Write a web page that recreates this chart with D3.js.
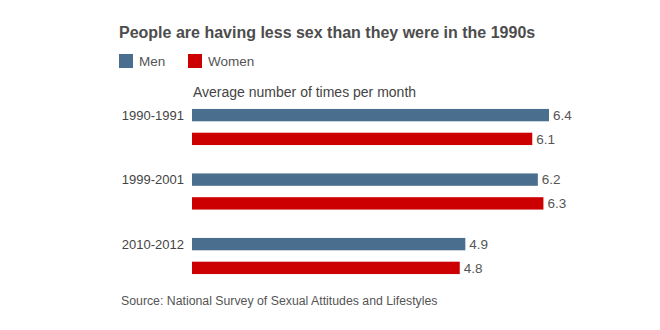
<!DOCTYPE html>
<html lang="en">
<head>
<meta charset="utf-8">
<title>People are having less sex than they were in the 1990s</title>
<script src="https://cdn.jsdelivr.net/npm/d3@7"></script>
<style>
  body { margin: 0; background: #fff; }
  svg text { font-family: "Liberation Sans", Arial, Helvetica, sans-serif; }
</style>
</head>
<body>
<script>
var periods = ["1990-1991", "1999-2001", "2010-2012"];
var series = ["Men", "Women"];
var men = [6.4, 6.2, 4.9];
var women = [6.1, 6.3, 4.8];
var colors = ["#4a6f8e", "#cc0000"];

var w = 660, h = 330;

var svg = d3.select("body").append("svg")
    .attr("width", w)
    .attr("height", h);

var x = d3.scaleLinear().domain([0, 6.4]).range([192, 549]);

// each period gets a 64.5px slot, two 12.5px bars inside it
var y0 = d3.scaleBand().domain(periods).range([103, 296.5]);
var y1 = d3.scaleBand().domain(series).range([0, 48]).paddingInner(0.48).paddingOuter(0.25);

var data = [];
periods.forEach(function(p, i) {
  data.push({ period: p, s: "Men", v: men[i] });
  data.push({ period: p, s: "Women", v: women[i] });
});

svg.append("text")
   .attr("x", 119).attr("y", 38)
   .style("font-size", "16px").style("font-weight", "bold")
   .attr("fill", "#4d4d4d")
   .text("People are having less sex than they were in the 1990s");

// legend
var leg = svg.selectAll("g.leg").data(series).enter().append("g")
   .attr("class", "leg")
   .attr("transform", function(d, i) { return "translate(" + (119 + i * 69) + ",54)"; });
leg.append("rect").attr("width", 14).attr("height", 14)
   .attr("fill", function(d, i) { return colors[i]; });
leg.append("text").attr("x", 20).attr("y", 11.5)
   .style("font-size", "13.5px").attr("fill", "#555")
   .text(function(d) { return d; });

svg.append("text")
   .attr("x", 193).attr("y", 97)
   .style("font-size", "14px").attr("fill", "#444")
   .text("Average number of times per month");

svg.selectAll("rect.bar").data(data).enter().append("rect")
   .attr("class", "bar")
   .attr("x", x(0))
   .attr("y", function(d) { return y0(d.period) + y1(d.s); })
   .attr("width", function(d) { return x(d.v) - x(0); })
   .attr("height", y1.bandwidth())
   .attr("fill", function(d) { return d.s === "Men" ? colors[0] : colors[1]; });

svg.selectAll("text.val").data(data).enter().append("text")
   .attr("class", "val")
   .attr("x", function(d) { return x(d.v) + 4; })
   .attr("y", function(d) { return y0(d.period) + y1(d.s) + y1.bandwidth() / 2; })
   .attr("dy", "0.36em")
   .style("font-size", "13.5px").attr("fill", "#555")
   .text(function(d) { return d.v.toFixed(1); });

svg.selectAll("text.cat").data(periods).enter().append("text")
   .attr("class", "cat")
   .attr("x", 184)
   .attr("y", function(d) { return y0(d) + y1("Men") + y1.bandwidth() / 2; })
   .attr("dy", "0.36em")
   .attr("text-anchor", "end")
   .style("font-size", "13px").attr("fill", "#444")
   .text(function(d) { return d; });

svg.append("text")
   .attr("x", 121).attr("y", 305)
   .style("font-size", "12.3px").attr("fill", "#555")
   .text("Source: National Survey of Sexual Attitudes and Lifestyles");
</script>
</body>
</html>
